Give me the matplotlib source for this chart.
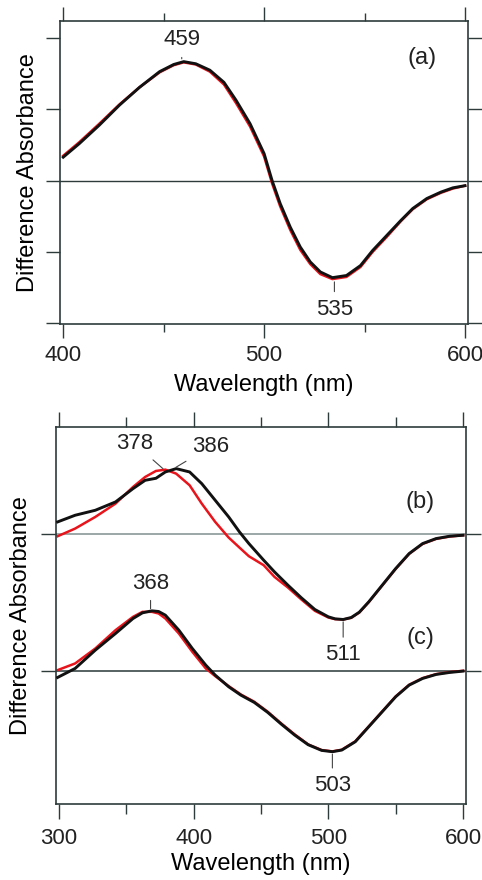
import numpy as np
import matplotlib
matplotlib.use("Agg")
import matplotlib.pyplot as plt

plt.rcParams['font.family'] = ['Liberation Sans', 'DejaVu Sans']

# ---- panel (a) data ----
wl_a = [400, 408, 418, 428, 438, 448, 455, 460, 466, 473, 480, 486, 493, 500, 504,
        508, 513, 518, 523, 528, 534, 541, 548, 554, 561, 568, 574, 581, 588, 594, 600]
a_black = [0.33, 0.52, 0.78, 1.06, 1.31, 1.53, 1.63, 1.67, 1.64, 1.55, 1.38, 1.13, 0.80,
           0.38, 0.00, -0.32, -0.65, -0.93, -1.14, -1.28, -1.36, -1.33, -1.19, -0.98,
           -0.77, -0.56, -0.39, -0.25, -0.16, -0.10, -0.07]
a_red = [0.35, 0.54, 0.80, 1.07, 1.31, 1.52, 1.62, 1.66, 1.63, 1.53, 1.35, 1.09, 0.76,
         0.34, -0.04, -0.36, -0.69, -0.97, -1.17, -1.31, -1.38, -1.35, -1.21, -1.00,
         -0.79, -0.57, -0.40, -0.26, -0.17, -0.11, -0.07]

# ---- panel (b) data ----
wl_b = [299, 312, 327, 342, 355, 364, 372, 379, 387, 397, 406, 416, 426, 434, 441, 452,
        460, 470, 480, 490, 500, 505, 511, 517, 523, 530, 540, 550, 560, 570, 580, 590, 600]
b_black = [0.35, 0.55, 0.70, 0.95, 1.35, 1.60, 1.66, 1.85, 1.95, 1.85, 1.50, 1.00, 0.50,
           0.05, -0.30, -0.80, -1.15, -1.55, -1.93, -2.28, -2.50, -2.56, -2.58, -2.52,
           -2.36, -2.05, -1.55, -1.05, -0.60, -0.30, -0.15, -0.08, -0.05]
b_red = [-0.08, 0.15, 0.50, 0.90, 1.40, 1.70, 1.88, 1.92, 1.80, 1.45, 0.90, 0.35, -0.12,
         -0.42, -0.68, -0.95, -1.30, -1.62, -1.98, -2.32, -2.52, -2.57, -2.58, -2.53,
         -2.37, -2.06, -1.56, -1.06, -0.61, -0.31, -0.16, -0.09, -0.05]

# ---- panel (c) data ----
wl_c = [299, 312, 327, 342, 355, 362, 369, 374, 379, 389, 399, 409, 416, 426, 435, 445,
        455, 465, 475, 485, 495, 503, 510, 520, 530, 540, 550, 560, 570, 580, 590, 600]
c_black = [-0.20, 0.07, 0.62, 1.12, 1.57, 1.74, 1.80, 1.78, 1.67, 1.22, 0.67, 0.17, -0.13,
           -0.48, -0.73, -0.95, -1.25, -1.60, -1.93, -2.22, -2.39, -2.43, -2.38, -2.13,
           -1.68, -1.23, -0.78, -0.43, -0.23, -0.11, -0.05, -0.01]
c_red = [0.02, 0.22, 0.67, 1.22, 1.62, 1.77, 1.77, 1.72, 1.57, 1.12, 0.57, 0.07, -0.16,
         -0.46, -0.71, -0.93, -1.23, -1.58, -1.91, -2.21, -2.38, -2.42, -2.37, -2.12,
         -1.67, -1.22, -0.77, -0.42, -0.22, -0.10, -0.04, 0.00]
b_offset = 4.12

frame = '#2e3b3b'
fs_num = 16
fs_lab = 17

fig = plt.figure(figsize=(4.82, 8.80), dpi=100)


def style(ax):
    for s in ax.spines.values():
        s.set_color(frame)
        s.set_linewidth(1.2)
    ax.tick_params(which='both', direction='out', color=frame, width=1.0,
                   top=True, bottom=True, left=True, right=True,
                   labelleft=False, labelsize=fs_num, labelcolor='#222222')
    ax.tick_params(which='major', length=10, pad=5)
    ax.tick_params(which='minor', length=6)


def mark(ax, text, x, y, dx, dy, va):
    ax.annotate(text, xy=(x, y), xytext=(dx, dy), textcoords='offset points',
                ha='center', va=va, fontsize=fs_num, color='#222222',
                arrowprops=dict(arrowstyle='-', color='#444444', lw=0.8,
                                shrinkA=3, shrinkB=1))


# ---- top panel ----
ax1 = fig.add_axes([60 / 482, 1 - 324 / 880, 408 / 482, 303 / 880])
ax1.axhline(0, color=frame, lw=1.0, zorder=1)
ax1.plot(wl_a, a_red, color='#e8141c', lw=1.8, zorder=2)
ax1.plot(wl_a, a_black, color='#111111', lw=2.1, zorder=3)
ax1.set_xlim(398.4, 601.5)
ax1.set_ylim(-2.01, 2.24)
ax1.set_xticks([400, 500, 600])
ax1.set_xticks([450, 550], minor=True)
ax1.set_yticks([-2, -1, 0, 1, 2])
style(ax1)
ax1.set_xlabel('Wavelength (nm)', fontsize=fs_lab, labelpad=6)
ax1.set_ylabel('Difference Absorbance', fontsize=fs_lab, labelpad=5)
mark(ax1, '459', 459, 1.69, 0, 7, 'bottom')
mark(ax1, '535', 535, -1.40, 0, -13, 'top')
ax1.text(0.888, 0.878, '(a)', transform=ax1.transAxes, fontsize=fs_lab,
         ha='center', va='center', color='#222222')

# ---- bottom panel ----
ax2 = fig.add_axes([56 / 482, 1 - 804 / 880, 410 / 482, 377 / 880])
ax2.axhline(b_offset, color='#8a9898', lw=1.2, zorder=1)
ax2.axhline(0, color='#3a4848', lw=1.2, zorder=1)
ax2.plot(wl_b, np.array(b_red) + b_offset, color='#e8141c', lw=1.8, zorder=2)
ax2.plot(wl_b, np.array(b_black) + b_offset, color='#111111', lw=2.1, zorder=3)
ax2.plot(wl_c, c_red, color='#e8141c', lw=1.8, zorder=2)
ax2.plot(wl_c, c_black, color='#111111', lw=2.1, zorder=3)
ax2.set_xlim(297.8, 602.2)
ax2.set_ylim(-4.0, 7.32)
ax2.set_xticks([300, 400, 500, 600])
ax2.set_xticks([350, 450, 550], minor=True)
ax2.set_yticks([0, b_offset])
style(ax2)
ax2.tick_params(axis='y', which='major', length=11)
ax2.tick_params(axis='x', which='major', length=11, pad=6)
ax2.tick_params(axis='x', which='minor', length=7)
ax2.set_xlabel('Wavelength (nm)', fontsize=fs_lab, labelpad=3)
ax2.set_ylabel('Difference Absorbance', fontsize=fs_lab, labelpad=6)
mark(ax2, '378', 378, 1.92 + b_offset, -21, 11, 'bottom')
mark(ax2, '386', 386, 1.97 + b_offset, 26, 8, 'bottom')
mark(ax2, '368', 368, 1.82, 0, 12, 'bottom')
mark(ax2, '511', 511, -2.61 + b_offset, 0, -17, 'top')
mark(ax2, '503', 503, -2.46, 0, -16, 'top')
ax2.text(0.888, 0.80, '(b)', transform=ax2.transAxes, fontsize=fs_lab,
         ha='center', va='center', color='#222222')
ax2.text(0.888, 0.44, '(c)', transform=ax2.transAxes, fontsize=fs_lab,
         ha='center', va='center', color='#222222')

fig.savefig('out.png', dpi=100)
